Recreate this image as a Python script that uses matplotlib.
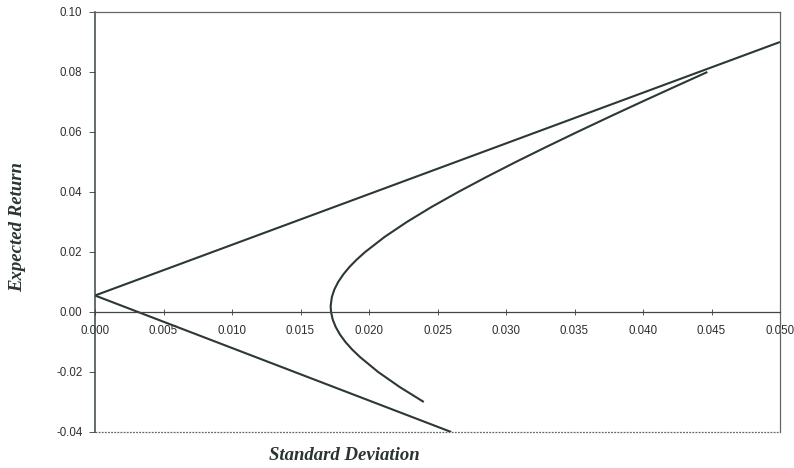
import matplotlib
matplotlib.use('Agg')
import matplotlib.pyplot as plt

# capital market line and lower tangent line (std dev, expected return)
cml_sd = [0.0, 0.050]
cml_ret = [0.0055, 0.090]
low_sd = [0.0, 0.026]
low_ret = [0.0055, -0.040]

# efficient frontier points
front_ret = [-0.030, -0.025, -0.020, -0.015, -0.0125, -0.010, -0.0075, -0.005, -0.0025,
             0.000, 0.002, 0.005, 0.0075, 0.010, 0.0125, 0.015, 0.0175, 0.020, 0.025,
             0.030, 0.035, 0.040, 0.045, 0.050, 0.055, 0.060, 0.065, 0.070, 0.075, 0.080]
front_sd = [0.02400, 0.02224, 0.02067, 0.01934, 0.01877, 0.01828, 0.01788, 0.01757, 0.01735,
            0.01723, 0.01720, 0.01729, 0.01747, 0.01775, 0.01812, 0.01857, 0.01911, 0.01972, 0.02113,
            0.02276, 0.02456, 0.02651, 0.02857, 0.03071, 0.03293, 0.03520, 0.03752, 0.03988, 0.04228,
            0.04470]

xticks = [0.000, 0.005, 0.010, 0.015, 0.020, 0.025, 0.030, 0.035, 0.040, 0.045, 0.050]
yticks = [-0.04, -0.02, 0.00, 0.02, 0.04, 0.06, 0.08, 0.10]

line_col = '#2b3833'
tick_font = {'family': 'Liberation Sans', 'size': 8.3, 'color': '#2e2e2e'}
label_font = {'family': 'Liberation Serif', 'size': 13.5, 'weight': 'bold',
              'style': 'italic', 'color': '#2a3530'}

fig = plt.figure(figsize=(7.94, 4.68), dpi=100)
ax = fig.add_axes([95 / 794, 36 / 468, 685 / 794, 420 / 468])

ax.plot(cml_sd, cml_ret, color=line_col, lw=1.5, solid_capstyle='butt')
ax.plot(low_sd, low_ret, color=line_col, lw=1.5, solid_capstyle='butt')
ax.plot(front_sd, front_ret, color=line_col, lw=1.5, solid_capstyle='butt',
        solid_joinstyle='round')

ax.set_xlim(0, 0.05)
ax.set_ylim(-0.04, 0.10)

# x axis crosses at zero, frame drawn dotted
ax.spines['bottom'].set_position(('data', 0))
ax.spines['bottom'].set_color('#444444')
ax.spines['bottom'].set_linewidth(0.9)
ax.spines['left'].set_color('#3a4540')
ax.spines['left'].set_linewidth(1.1)
for s in ['top', 'right']:
    ax.spines[s].set_color('#666666')
    ax.spines[s].set_linewidth(0.9)
    ax.spines[s].set_linestyle((0, (1.5, 1)))
ax.axhline(-0.04, color='#666666', lw=0.9, ls=(0, (1.5, 1)), clip_on=False)

ax.set_xticks(xticks)
ax.set_xticklabels(['%.3f' % v for v in xticks], fontdict=tick_font)
ax.set_yticks(yticks)
ax.set_yticklabels(['%.2f' % v for v in yticks], fontdict=tick_font)
ax.tick_params(axis='x', direction='inout', length=4, width=0.7, color='#555555', pad=7)
ax.tick_params(axis='y', direction='out', length=4, width=0.7, color='#555555', pad=5)

fig.text(344 / 794, 1 - 456 / 468, 'Standard Deviation', ha='center', va='center', **label_font)
fig.text(18 / 794, 1 - 227 / 468, 'Expected Return', ha='center', va='center',
         rotation=90, **label_font)

fig.savefig('out.png', dpi=100)
